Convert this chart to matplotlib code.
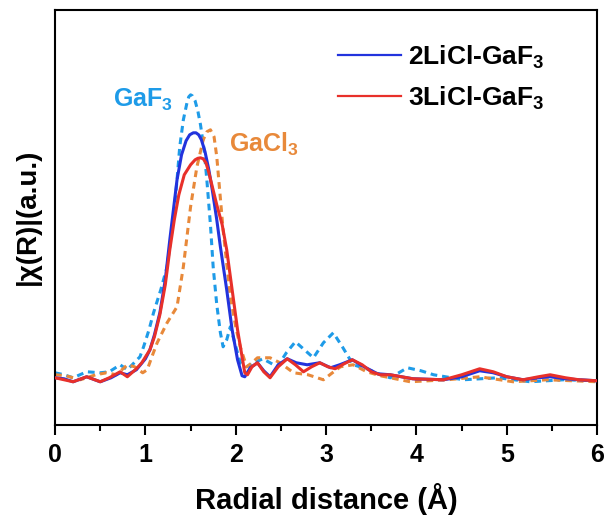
import matplotlib
matplotlib.use("Agg")
import matplotlib.pyplot as plt

plt.rcParams['font.family'] = ['Liberation Sans', 'DejaVu Sans']
plt.rcParams['font.weight'] = 'bold'
plt.rcParams['mathtext.fontset'] = 'custom'
plt.rcParams['mathtext.rm'] = 'Liberation Sans:bold'
plt.rcParams['mathtext.default'] = 'rm'

# 2LiCl-GaF3
x_2li = [0, 0.1, 0.2, 0.35, 0.5, 0.62, 0.72, 0.8, 0.9, 1.0, 1.05, 1.1, 1.16, 1.22, 1.27, 1.31, 1.35, 1.40, 1.45, 1.49, 1.53, 1.56, 1.59, 1.62, 1.66, 1.70, 1.74, 1.79, 1.83, 1.9, 1.96, 2.02, 2.07, 2.1, 2.16, 2.24, 2.31, 2.38, 2.47, 2.57, 2.67, 2.79, 2.93, 3.05, 3.15, 3.29, 3.42, 3.57, 3.71, 3.96, 4.3, 4.5, 4.7, 4.85, 5.0, 5.18, 5.35, 5.48, 5.65, 5.8, 6.0]
y_2li = [0.47, 0.46, 0.43, 0.48, 0.43, 0.47, 0.52, 0.50, 0.55, 0.66, 0.75, 0.9, 1.12, 1.45, 1.85, 2.15, 2.45, 2.7, 2.84, 2.9, 2.92, 2.92, 2.9, 2.85, 2.73, 2.56, 2.35, 2.05, 1.78, 1.35, 0.95, 0.65, 0.49, 0.48, 0.57, 0.62, 0.54, 0.48, 0.6, 0.66, 0.62, 0.6, 0.62, 0.57, 0.6, 0.65, 0.58, 0.51, 0.50, 0.46, 0.45, 0.48, 0.54, 0.52, 0.48, 0.45, 0.47, 0.48, 0.46, 0.45, 0.44]

# 3LiCl-GaF3
x_3li = [0, 0.1, 0.2, 0.35, 0.5, 0.6, 0.72, 0.8, 0.9, 0.96, 1.05, 1.1, 1.16, 1.22, 1.27, 1.32, 1.37, 1.43, 1.5, 1.55, 1.58, 1.61, 1.64, 1.67, 1.70, 1.73, 1.79, 1.85, 1.9, 1.96, 2.02, 2.07, 2.1, 2.13, 2.18, 2.24, 2.31, 2.38, 2.47, 2.57, 2.66, 2.75, 2.84, 2.93, 3.02, 3.1, 3.2, 3.29, 3.4, 3.5, 3.6, 3.71, 3.96, 4.3, 4.5, 4.7, 4.85, 5.0, 5.18, 5.35, 5.48, 5.65, 5.8, 6.0]
y_3li = [0.47, 0.45, 0.43, 0.48, 0.43, 0.47, 0.53, 0.48, 0.56, 0.62, 0.75, 0.88, 1.1, 1.4, 1.75, 2.05, 2.3, 2.5, 2.6, 2.65, 2.665, 2.67, 2.66, 2.62, 2.53, 2.42, 2.2, 2.0, 1.75, 1.35, 0.95, 0.68, 0.52, 0.50, 0.58, 0.62, 0.53, 0.47, 0.58, 0.66, 0.6, 0.53, 0.58, 0.62, 0.58, 0.56, 0.61, 0.65, 0.6, 0.53, 0.50, 0.50, 0.46, 0.45, 0.5, 0.56, 0.53, 0.48, 0.45, 0.48, 0.5, 0.47, 0.45, 0.44]

# GaF3 reference
x_gaf = [0, 0.1, 0.2, 0.35, 0.5, 0.6, 0.72, 0.8, 0.94, 0.98, 1.04, 1.09, 1.17, 1.24, 1.31, 1.35, 1.38, 1.42, 1.46, 1.48, 1.5, 1.52, 1.55, 1.58, 1.61, 1.65, 1.68, 1.72, 1.75, 1.79, 1.83, 1.86, 1.9, 1.94, 1.98, 2.05, 2.12, 2.2, 2.3, 2.38, 2.46, 2.56, 2.66, 2.76, 2.86, 2.97, 3.08, 3.18, 3.3, 3.45, 3.6, 3.71, 3.9, 4.05, 4.19, 4.52, 4.9, 5.26, 5.63, 6.0]
y_gaf = [0.52, 0.5, 0.47, 0.53, 0.52, 0.53, 0.6, 0.55, 0.68, 0.78, 0.95, 1.12, 1.35, 1.58, 2.05, 2.45, 2.78, 3.05, 3.22, 3.28, 3.30, 3.29, 3.24, 3.14, 3.0, 2.75, 2.45, 2.0, 1.58, 1.2, 0.92, 0.78, 0.85, 0.98, 0.85, 0.62, 0.58, 0.62, 0.66, 0.62, 0.58, 0.72, 0.83, 0.75, 0.67, 0.82, 0.92, 0.78, 0.6, 0.56, 0.5, 0.47, 0.57, 0.54, 0.5, 0.45, 0.47, 0.43, 0.45, 0.44]

# GaCl3 reference
x_gacl = [0, 0.12, 0.28, 0.45, 0.57, 0.68, 0.8, 0.88, 0.97, 1.02, 1.08, 1.13, 1.24, 1.35, 1.42, 1.5, 1.57, 1.64, 1.68, 1.72, 1.76, 1.79, 1.86, 1.94, 2.0, 2.05, 2.12, 2.18, 2.24, 2.38, 2.49, 2.64, 2.8, 2.97, 3.07, 3.16, 3.3, 3.45, 3.6, 3.93, 4.34, 4.7, 5.07, 5.45, 6.0]
y_gacl = [0.5, 0.49, 0.45, 0.5, 0.52, 0.5, 0.6, 0.58, 0.52, 0.55, 0.7, 0.82, 1.02, 1.18, 1.58, 2.18, 2.58, 2.85, 2.93, 2.95, 2.88, 2.68, 1.95, 1.28, 0.98, 0.78, 0.58, 0.62, 0.67, 0.67, 0.62, 0.52, 0.5, 0.45, 0.52, 0.58, 0.6, 0.53, 0.49, 0.43, 0.45, 0.48, 0.43, 0.45, 0.43]

x_ticks = [0, 1, 2, 3, 4, 5, 6]

c_blue = '#2233DD'
c_red = '#E8302A'
c_gaf = '#1E9BE8'
c_gacl = '#E8893A'

fig = plt.figure(figsize=(6.05, 5.18), dpi=100)
ax = fig.add_axes([0.091, 0.18, 0.896, 0.801])

ax.plot(x_gaf, y_gaf, color=c_gaf, lw=2.2, ls=(0, (2.2, 1.6)), zorder=2)
ax.plot(x_gacl, y_gacl, color=c_gacl, lw=2.2, ls=(0, (2.2, 1.6)), zorder=2)
l1, = ax.plot(x_2li, y_2li, color=c_blue, lw=2.2, zorder=3, label='2LiCl-GaF$_3$')
l2, = ax.plot(x_3li, y_3li, color=c_red, lw=2.2, zorder=4, label='3LiCl-GaF$_3$')

ax.text(0.97, 3.25, 'GaF$_3$', color=c_gaf, fontsize=18, fontweight='bold', ha='center', va='center')
ax.text(1.92, 2.8, 'GaCl$_3$', color=c_gacl, fontsize=18, fontweight='bold', ha='left', va='center')

leg = ax.legend(handles=[l1, l2], loc='upper left', bbox_to_anchor=(0.478, 0.976), frameon=False,
                fontsize=19, handlelength=2.4, handletextpad=0.25, labelspacing=0.52)
for h in leg.get_lines():
    h.set_linewidth(1.6)

ax.set_xlim(0, 6)
ax.set_ylim(0, 4.15)
ax.set_xticks(x_ticks)
ax.set_xticks([0.5, 1.5, 2.5, 3.5, 4.5, 5.5], minor=True)
ax.set_yticks([])
ax.tick_params(axis='x', which='major', direction='out', length=7, width=1.5, labelsize=18, pad=6)
ax.tick_params(axis='x', which='minor', direction='out', length=4, width=1.5)
for lab in ax.get_xticklabels():
    lab.set_fontweight('bold')
for s in ax.spines.values():
    s.set_linewidth(1.5)

ax.set_xlabel('Radial distance (Å)', fontsize=21, fontweight='bold', labelpad=12)
ax.set_ylabel('|χ(R)|(a.u.)', fontsize=20, fontweight='bold', labelpad=10)

fig.savefig('out.png', dpi=100)
